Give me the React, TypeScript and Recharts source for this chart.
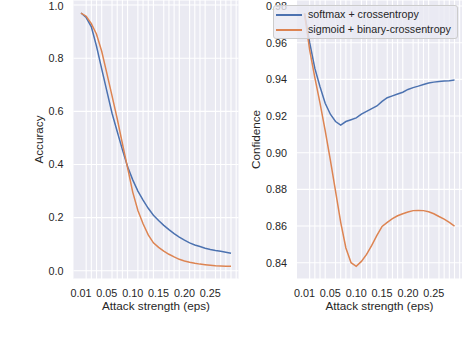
import React from "react";
import { LineChart, Line, XAxis, YAxis, CartesianGrid } from "recharts";

// eps steps (one per grid column); labels only every fifth step
const steps = [0, 1, 2, 3, 4, 5, 6, 7, 8, 9, 10, 11, 12, 13, 14, 15, 16, 17, 18, 19, 20, 21, 22, 23, 24, 25, 26, 27, 28, 29];
const gridSteps = [...steps, 30];
const xTickSteps = [0, 5, 10, 15, 20, 25];
const xTickLabels = ["0.01", "0.05", "0.10", "0.15", "0.20", "0.25"];

const accuracyTicks = [0, 0.2, 0.4, 0.6, 0.8, 1.0];
const confidenceTicks = [0.84, 0.86, 0.88, 0.9, 0.92, 0.94, 0.96, 0.98];

const seriesNames = ["softmax + crossentropy", "sigmoid + binary-crossentropy"];
const seriesColors = ["#4C72B0", "#DD8452"];

const accSoftmax = [0.970, 0.953, 0.918, 0.845, 0.760, 0.676, 0.593, 0.524, 0.456, 0.392, 0.342, 0.300, 0.266, 0.235, 0.209, 0.189, 0.171, 0.155, 0.140, 0.127, 0.115, 0.105, 0.097, 0.091, 0.085, 0.080, 0.076, 0.073, 0.070, 0.066];
const accSigmoid = [0.970, 0.958, 0.930, 0.890, 0.826, 0.743, 0.658, 0.572, 0.479, 0.388, 0.296, 0.227, 0.177, 0.135, 0.105, 0.088, 0.074, 0.062, 0.052, 0.043, 0.037, 0.032, 0.028, 0.025, 0.023, 0.021, 0.019, 0.018, 0.017, 0.017];

const confSoftmax = [0.976, 0.960, 0.946, 0.936, 0.927, 0.921, 0.917, 0.915, 0.917, 0.918, 0.919, 0.921, 0.9225, 0.924, 0.9255, 0.928, 0.930, 0.931, 0.932, 0.933, 0.9345, 0.9355, 0.9363, 0.9372, 0.938, 0.9385, 0.9389, 0.9391, 0.9393, 0.9396];
const confSigmoid = [0.976, 0.956, 0.941, 0.927, 0.912, 0.896, 0.879, 0.862, 0.848, 0.840, 0.838, 0.8407, 0.8445, 0.8494, 0.8549, 0.8598, 0.862, 0.864, 0.8656, 0.8667, 0.8676, 0.8684, 0.8685, 0.8684, 0.8678, 0.8667, 0.8652, 0.8638, 0.862, 0.860];

const accuracyData = steps.map((s, i) => ({ step: s, softmax: accSoftmax[i], sigmoid: accSigmoid[i] }));
const confidenceData = steps.map((s, i) => ({ step: s, softmax: confSoftmax[i], sigmoid: confSigmoid[i] }));

const textColor = "#262626";
const font = "'Liberation Sans', Arial, Helvetica, sans-serif";

interface IPanelProps {
  data: { step: number; softmax: number; sigmoid: number }[];
  left: number;
  width: number;
  marginRight: number;
  yWidth: number;
  yDomain: [number, number];
  yTicks: number[];
  digits: number;
  yLabel: string;
  yLabelOffset: number;
}

const Panel = ({ data, left, width, marginRight, yWidth, yDomain, yTicks, digits, yLabel, yLabelOffset }: IPanelProps) => (
  <div style={{ position: "absolute", left, top: 0 }}>
    <LineChart width={width} height={348} data={data} margin={{ top: 0, right: marginRight, bottom: 0, left: 0 }}>
      <CartesianGrid fill="#EAEAF2" stroke="#ffffff" strokeWidth={1.1} verticalValues={gridSteps} />
      <XAxis
        type="number"
        dataKey="step"
        domain={[-1.45, 30.45]}
        allowDataOverflow
        ticks={xTickSteps}
        tickFormatter={(v) => xTickLabels[xTickSteps.indexOf(v)]}
        axisLine={false}
        tickLine={false}
        tickSize={0}
        tickMargin={10}
        height={69}
        tick={{ fill: textColor, fontSize: 10.8 }}
        label={{ value: "Attack strength (eps)", position: "insideBottom", offset: 38, fill: textColor, fontSize: 11.7 }}
      />
      <YAxis
        type="number"
        domain={yDomain}
        allowDataOverflow
        ticks={yTicks}
        tickFormatter={(v) => v.toFixed(digits)}
        axisLine={false}
        tickLine={false}
        tickSize={0}
        tickMargin={10}
        width={yWidth}
        tick={{ fill: textColor, fontSize: 10.8 }}
        label={{ value: yLabel, angle: -90, position: "insideLeft", offset: yLabelOffset, fill: textColor, fontSize: 11.7, style: { textAnchor: "middle" } }}
      />
      <Line dataKey="softmax" name={seriesNames[0]} stroke={seriesColors[0]} strokeWidth={1.5} dot={false} isAnimationActive={false} />
      <Line dataKey="sigmoid" name={seriesNames[1]} stroke={seriesColors[1]} strokeWidth={1.5} dot={false} isAnimationActive={false} />
    </LineChart>
  </div>
);

const LegendBox = () => (
  <div
    style={{
      position: "absolute",
      left: 273,
      top: 5,
      width: 185,
      height: 34,
      boxSizing: "border-box",
      background: "rgba(234, 234, 242, 0.8)",
      border: "1px solid #cccccc",
      borderRadius: 3,
      fontSize: 10.7,
      color: textColor,
    }}
  >
    {seriesNames.map((name, idx) => (
      <div key={name} style={{ position: "absolute", left: 0, top: 1 + idx * 15, height: 15, width: "100%" }}>
        <div style={{ position: "absolute", left: 2, top: 7, width: 26, height: 1.5, background: seriesColors[idx] }} />
        <span style={{ position: "absolute", left: 34, top: 1, whiteSpace: "nowrap", lineHeight: "13px" }}>{name}</span>
      </div>
    ))}
  </div>
);

const App = () => (
  <div style={{ position: "fixed", left: 0, top: 0, width: 462, height: 348, background: "#ffffff", fontFamily: font, overflow: "hidden" }}>
    <Panel
      data={accuracyData}
      left={0}
      width={240}
      marginRight={1.5}
      yWidth={73.5}
      yDomain={[-0.031, 1.019]}
      yTicks={accuracyTicks}
      digits={1}
      yLabel="Accuracy"
      yLabelOffset={39}
    />
    <Panel
      data={confidenceData}
      left={240}
      width={222}
      marginRight={0}
      yWidth={57}
      yDomain={[0.8311, 0.9833]}
      yTicks={confidenceTicks}
      digits={2}
      yLabel="Confidence"
      yLabelOffset={16}
    />
    <LegendBox />
  </div>
);

export default App;
